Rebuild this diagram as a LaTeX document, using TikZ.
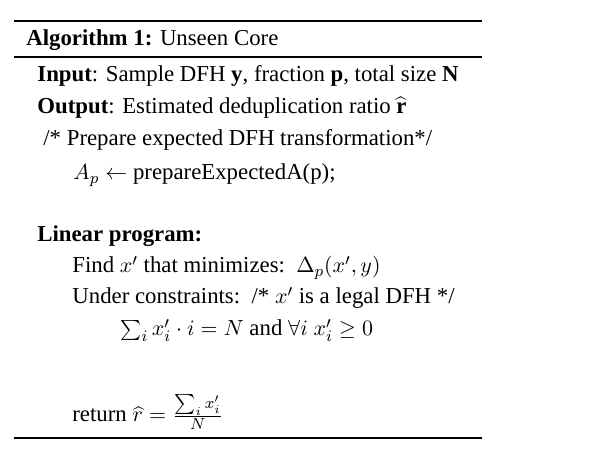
\documentclass[tikz,border=0pt]{standalone}
\usepackage{fontspec}
\setmainfont{Liberation Serif}
\tikzset{
  algline/.style={anchor=base west, inner sep=0pt, font=\fontsize{11.4}{14}\selectfont},
  toprule/.style={line width=1.1pt},
  midrule/.style={line width=0.7pt}
}
\begin{document}
\begin{tikzpicture}[x=0.5pt, y=-0.5pt]
\useasboundingbox (0,0) rectangle (607,453);

% --- Rules ---
\coordinate (top_l) at (14,21);
\coordinate (top_r) at (482,21);
\coordinate (mid_l) at (14,57);
\coordinate (mid_r) at (482,57);
\coordinate (bot_l) at (14,438);
\coordinate (bot_r) at (482,438);
\draw[toprule] (top_l) -- (top_r);
\draw[midrule] (mid_l) -- (mid_r);
\draw[toprule] (bot_l) -- (bot_r);

% --- Header ---
\node (title) [algline] at (26,46) {\textbf{Algorithm 1:} Unseen Core};

% --- Input / output ---
\node (input) [algline] at (37,82) {\textbf{Input}: Sample DFH \textbf{y}, fraction \textbf{p}, total size \textbf{N}};
\node (output) [algline] at (37,114) {\textbf{Output}: Estimated deduplication ratio $\widehat{\mathbf{r}}$};
\node (prep_comment) [algline] at (43,146) {/* Prepare expected DFH transformation*/};
\node (prep) [algline] at (73,180) {$A_p \leftarrow$ prepareExpectedA(p);};

% --- Linear program ---
\node (lp) [algline] at (37,242) {\textbf{Linear program:}};
\node (find) [algline] at (72,273) {Find $x'$ that minimizes:\ \ $\Delta_p(x',y)$};
\node (under) [algline] at (72,304) {Under constraints:\ \ /* $x'$ is a legal DFH */};
\node (constr) [algline] at (120,336) {$\sum_i x'_i\cdot i = N$ and $\forall i\ x'_i \geq 0$};

% --- Return ---
\node (ret) [algline] at (72,422) {return $\widehat{r} = \frac{\sum_i x'_i}{N}$};

\end{tikzpicture}
\end{document}
